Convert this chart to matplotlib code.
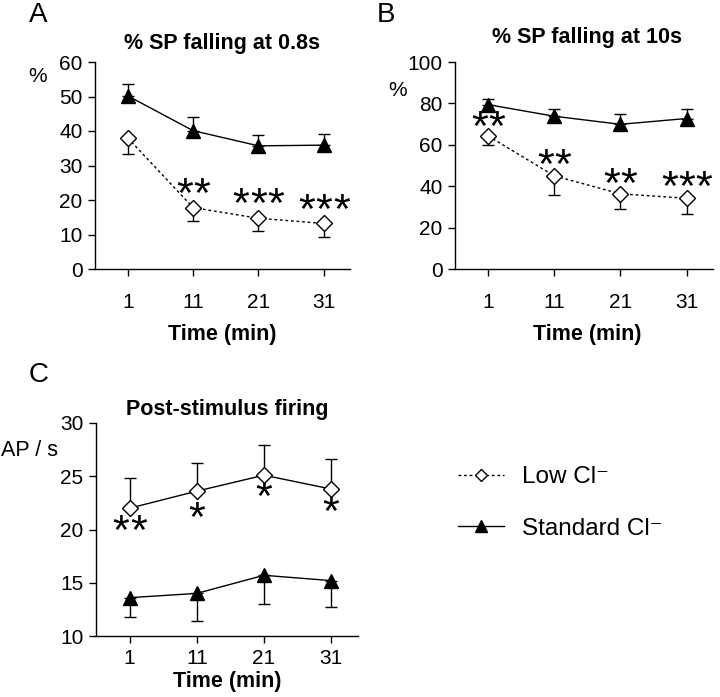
import numpy as np
import matplotlib
matplotlib.use("Agg")
import matplotlib.pyplot as plt
from matplotlib.lines import Line2D

plt.rcParams['font.family'] = ['Liberation Sans', 'DejaVu Sans']

#========================== DATA ==========================
time_min = [1, 11, 21, 31]

# panel A: % SP falling at 0.8s
a_std = [50.2, 40.1, 35.7, 35.9]
a_std_err = [3.3, 4.0, 3.1, 3.3]
a_low = [38.0, 17.8, 14.7, 13.2]
a_low_err = [4.8, 3.8, 3.6, 4.0]
a_stars = [0, 2, 3, 3]
a_star_y = [0, 23.3, 20.4, 18.5]

# panel B: % SP falling at 10s
b_std = [79.4, 73.8, 69.9, 72.7]
b_std_err = [2.6, 3.7, 5.2, 4.5]
b_low = [64.3, 45.0, 36.3, 34.2]
b_low_err = [4.2, 9.3, 7.4, 7.5]
b_stars = [2, 2, 2, 3]
b_star_y = [71.2, 52.9, 43.7, 42.1]

# panel C: post-stimulus firing
c_low = [22.0, 23.6, 25.1, 23.8]
c_low_err = [2.8, 2.6, 2.8, 2.8]
c_std = [13.6, 14.0, 15.7, 15.2]
c_std_err = [1.8, 2.6, 2.7, 2.5]
c_stars = [2, 1, 1, 1]
c_star_y = [20.3, 21.6, 23.5, 22.1]

W, H = 720, 697
STAR_FS = 31
STAR_PITCH = 12.5   # points between asterisk centres

def fx(px):
    return px / W

def fy(py):
    return 1 - py / H


def style_axes(ax, ylim, yticks, xpad):
    ax.set_xlim(-4, 35)
    ax.set_ylim(*ylim)
    ax.set_yticks(yticks)
    ax.set_xticks(time_min)
    ax.spines['top'].set_visible(False)
    ax.spines['right'].set_visible(False)
    ax.spines['left'].set_linewidth(1.0)
    ax.spines['bottom'].set_linewidth(1.0)
    ax.tick_params(axis='both', direction='out', length=5, width=1.0, labelsize=15)
    ax.tick_params(axis='x', pad=xpad)
    ax.tick_params(axis='y', pad=4)


def stars(ax, counts, ys):
    for x, n, y in zip(time_min, counts, ys):
        for k in range(n):
            dx = (k - (n - 1) / 2) * STAR_PITCH
            ax.annotate('*', xy=(x, y), xytext=(dx, -0.42 * STAR_FS), textcoords='offset points',
                        ha='center', va='baseline', fontsize=STAR_FS)


def series(ax, y, err, up, filled, dotted):
    zeros = np.zeros(len(err))
    yerr = [zeros, err] if up else [err, zeros]
    ax.errorbar(time_min, y, yerr=yerr, color='black', lw=1.0,
                ls=(0, (2, 2)) if dotted else '-',
                marker='^' if filled else 'D',
                ms=10 if filled else 8,
                mfc='black' if filled else 'white', mec='black', mew=1.0,
                capsize=4, capthick=1.0, elinewidth=1.0, zorder=3)


fig = plt.figure(figsize=(7.2, 6.97), dpi=100)

# panel A
axA = fig.add_axes([fx(95), fy(269), fx(350 - 95), fy(62) - fy(269)])
series(axA, a_std, a_std_err, True, True, False)
series(axA, a_low, a_low_err, False, False, True)
style_axes(axA, (0, 60), range(0, 61, 10), 12)
stars(axA, a_stars, a_star_y)
fig.text(fx(38), fy(15), 'A', fontsize=20, ha='center', va='center')
fig.text(fx(222), fy(43), '% SP falling at 0.8s', fontsize=15.5, fontweight='bold', ha='center', va='center')
fig.text(fx(38), fy(77), '%', fontsize=15, ha='center', va='center')
fig.text(fx(222), fy(334), 'Time (min)', fontsize=15.5, fontweight='bold', ha='center', va='center')

# panel B
axB = fig.add_axes([fx(455), fy(269), fx(713 - 455), fy(62) - fy(269)])
series(axB, b_std, b_std_err, True, True, False)
series(axB, b_low, b_low_err, False, False, True)
style_axes(axB, (0, 100), range(0, 101, 20), 12)
stars(axB, b_stars, b_star_y)
fig.text(fx(386), fy(15), 'B', fontsize=20, ha='center', va='center')
fig.text(fx(587), fy(37), '% SP falling at 10s', fontsize=15.5, fontweight='bold', ha='center', va='center')
fig.text(fx(398), fy(90), '%', fontsize=15, ha='center', va='center')
fig.text(fx(587), fy(334), 'Time (min)', fontsize=15.5, fontweight='bold', ha='center', va='center')

# panel C
axC = fig.add_axes([fx(96), fy(636), fx(358 - 96), fy(423) - fy(636)])
series(axC, c_low, c_low_err, True, False, False)
series(axC, c_std, c_std_err, False, True, False)
style_axes(axC, (10, 30), range(10, 31, 5), 4)
stars(axC, c_stars, c_star_y)
fig.text(fx(39), fy(375), 'C', fontsize=20, ha='center', va='center')
fig.text(fx(227), fy(409), 'Post-stimulus firing', fontsize=15.5, fontweight='bold', ha='center', va='center')
fig.text(fx(29), fy(450), 'AP / s', fontsize=15.5, ha='center', va='center')
fig.text(fx(227), fy(682), 'Time (min)', fontsize=15.5, fontweight='bold', ha='center', va='center')

# legend
handles = [
    Line2D([], [], color='black', lw=1.0, ls=(0, (2, 2)), marker='D', ms=6, mfc='white', mec='black'),
    Line2D([], [], color='black', lw=1.0, ls='-', marker='^', ms=9, mfc='black', mec='black'),
]
fig.legend(handles, ['Low Cl\u207b', 'Standard Cl\u207b'], loc='center left',
           bbox_to_anchor=(fx(436), fy(503)), frameon=False, fontsize=17.5,
           handlelength=1.9, handletextpad=0.75, labelspacing=1.2)

fig.savefig('out.png', dpi=100)
